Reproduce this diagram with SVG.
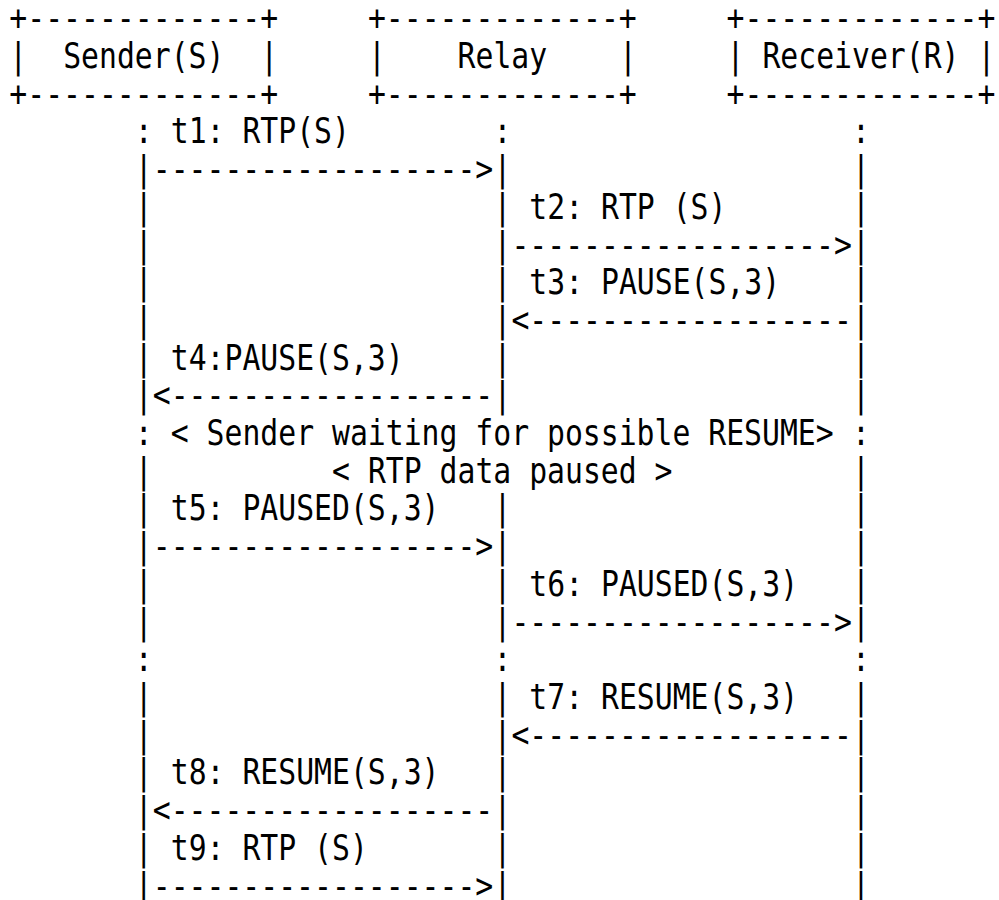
<svg xmlns="http://www.w3.org/2000/svg" width="999" height="900" viewBox="0 0 999 900">
<style>
text{font-family:"DejaVu Sans Mono","Liberation Mono",monospace;font-size:36px;fill:#000;white-space:pre}
</style>
<rect width="999" height="900" fill="#fff"/>
<g transform="translate(9.35,0) scale(0.82726,1)">
<g id="sender">
<text x="0" y="30.3">+-------------+</text>
<text y="68.0"><tspan x="0">|</tspan><tspan x="65.02">Sender(S)</tspan><tspan x="303.44">|</tspan></text>
<text x="0" y="105.7">+-------------+</text>
</g>
<g id="relay">
<text x="433.48" y="30.3">+-------------+</text>
<text y="68.0"><tspan x="433.48">|</tspan><tspan x="541.85">Relay</tspan><tspan x="736.92">|</tspan></text>
<text x="433.48" y="105.7">+-------------+</text>
</g>
<g id="receiver">
<text x="866.96" y="30.3">+-------------+</text>
<text y="68.0"><tspan x="866.96">|</tspan><tspan x="910.31">Receiver(R)</tspan><tspan x="1170.40">|</tspan></text>
<text x="866.96" y="105.7">+-------------+</text>
</g>
<g id="connectors">
<text y="143.4"><tspan x="151.72">:</tspan><tspan x="195.07">t1: RTP(S)</tspan><tspan x="585.20">:</tspan><tspan x="1018.68">:</tspan></text>
<text y="181.1"><tspan x="151.72">|</tspan><tspan x="173.39">------------------&gt;</tspan><tspan x="585.20">|</tspan><tspan x="1018.68">|</tspan></text>
<text y="218.9"><tspan x="151.72">|</tspan><tspan x="585.20">|</tspan><tspan x="628.55">t2: RTP (S)</tspan><tspan x="1018.68">|</tspan></text>
<text y="256.6"><tspan x="151.72">|</tspan><tspan x="585.20">|</tspan><tspan x="606.87">------------------&gt;</tspan><tspan x="1018.68">|</tspan></text>
<text y="294.3"><tspan x="151.72">|</tspan><tspan x="585.20">|</tspan><tspan x="628.55">t3: PAUSE(S,3)</tspan><tspan x="1018.68">|</tspan></text>
<text y="332.0"><tspan x="151.72">|</tspan><tspan x="585.20">|</tspan><tspan x="606.87">&lt;------------------</tspan><tspan x="1018.68">|</tspan></text>
<text y="369.7"><tspan x="151.72">|</tspan><tspan x="195.07">t4:PAUSE(S,3)</tspan><tspan x="585.20">|</tspan><tspan x="1018.68">|</tspan></text>
<text y="407.4"><tspan x="151.72">|</tspan><tspan x="173.39">&lt;------------------</tspan><tspan x="585.20">|</tspan><tspan x="1018.68">|</tspan></text>
<text y="445.1"><tspan x="151.72">:</tspan><tspan x="195.07">&lt; Sender waiting for possible RESUME&gt;</tspan><tspan x="1018.68">:</tspan></text>
<text y="482.8"><tspan x="151.72">|</tspan><tspan x="390.13">&lt; RTP data paused &gt;</tspan><tspan x="1018.68">|</tspan></text>
<text y="520.5"><tspan x="151.72">|</tspan><tspan x="195.07">t5: PAUSED(S,3)</tspan><tspan x="585.20">|</tspan><tspan x="1018.68">|</tspan></text>
<text y="558.2"><tspan x="151.72">|</tspan><tspan x="173.39">------------------&gt;</tspan><tspan x="585.20">|</tspan><tspan x="1018.68">|</tspan></text>
<text y="596.0"><tspan x="151.72">|</tspan><tspan x="585.20">|</tspan><tspan x="628.55">t6: PAUSED(S,3)</tspan><tspan x="1018.68">|</tspan></text>
<text y="633.7"><tspan x="151.72">|</tspan><tspan x="585.20">|</tspan><tspan x="606.87">------------------&gt;</tspan><tspan x="1018.68">|</tspan></text>
<text y="671.4"><tspan x="151.72">:</tspan><tspan x="585.20">:</tspan><tspan x="1018.68">:</tspan></text>
<text y="709.1"><tspan x="151.72">|</tspan><tspan x="585.20">|</tspan><tspan x="628.55">t7: RESUME(S,3)</tspan><tspan x="1018.68">|</tspan></text>
<text y="746.8"><tspan x="151.72">|</tspan><tspan x="585.20">|</tspan><tspan x="606.87">&lt;------------------</tspan><tspan x="1018.68">|</tspan></text>
<text y="784.5"><tspan x="151.72">|</tspan><tspan x="195.07">t8: RESUME(S,3)</tspan><tspan x="585.20">|</tspan><tspan x="1018.68">|</tspan></text>
<text y="822.2"><tspan x="151.72">|</tspan><tspan x="173.39">&lt;------------------</tspan><tspan x="585.20">|</tspan><tspan x="1018.68">|</tspan></text>
<text y="859.9"><tspan x="151.72">|</tspan><tspan x="195.07">t9: RTP (S)</tspan><tspan x="585.20">|</tspan><tspan x="1018.68">|</tspan></text>
<text y="897.6"><tspan x="151.72">|</tspan><tspan x="173.39">------------------&gt;</tspan><tspan x="585.20">|</tspan><tspan x="1018.68">|</tspan></text>
</g>
</g>
</svg>
